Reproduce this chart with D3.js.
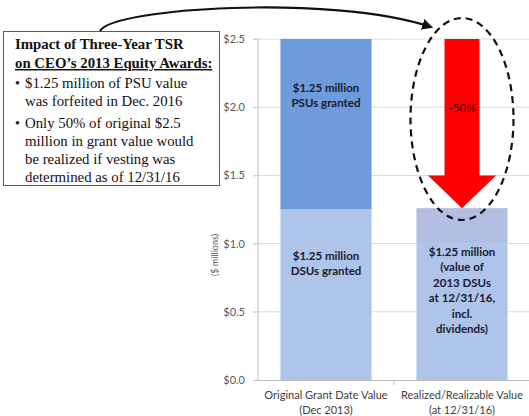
<!DOCTYPE html>
<html><head><meta charset="utf-8">
<script src="https://cdn.jsdelivr.net/npm/d3@7"></script>
<style>body{margin:0;background:#fff}svg{display:block}</style>
</head><body>
<script>
const categories = ["Original Grant Date Value|(Dec 2013)", "Realized/Realizable Value|(at 12/31/16)"];
const dsuValues = [1.25, 1.0];
const upperValues = [1.25, 0.26];
const yTicks = [0, 0.5, 1.0, 1.5, 2.0, 2.5];
const barLabels = [
  [["$1.25 million","DSUs granted"], ["$1.25 million","(value of","2013 DSUs","at 12/31/16,","incl.","dividends)"]],
  [["$1.25 million","PSUs granted"], []]
];
const arrowFrom = 2.5, arrowNeck = 1.5, arrowLabel = "-50%";
const boxTitle = ["Impact of Three-Year TSR", "on CEO\u2019s 2013 Equity Awards:"];
const boxBullets = [["$1.25 million of PSU value","was forfeited in Dec. 2016"],
  ["Only 50% of original $2.5","million in grant value would","be realized if vesting was","determined as of 12/31/16"]];

const W = 529, H = 416;
const svg = d3.select("body").append("svg").attr("width", W).attr("height", H);
const font = "Lato, 'Open Sans', sans-serif";
const x = d3.scaleBand().domain(categories).range([258, 530]).paddingInner(0.33).paddingOuter(0.165);
const y = d3.scaleLinear().domain([0, 2.5]).range([380, 39]);

// gridlines
svg.append("g").selectAll("line").data(yTicks.filter(d => d > 0)).join("line")
  .attr("x1", 253).attr("x2", 529).attr("y1", d => y(d)).attr("y2", d => y(d))
  .attr("stroke", "#d9d9d9").attr("stroke-width", 1);

// y axis
const ya = svg.append("g").attr("transform", "translate(258,0)")
  .call(d3.axisLeft(y).tickValues(yTicks).tickFormat(d => "$" + d3.format(".1f")(d)).tickSize(5).tickPadding(8));
ya.select(".domain").attr("stroke", "#bfbfbf").attr("d", "M0," + y(2.5) + "V" + y(0));
ya.selectAll(".tick line").attr("stroke", "#d0d0d0");
ya.selectAll("text").attr("font-family", font).attr("font-size", 11).attr("fill", "#595959");

// x axis
svg.append("line").attr("x1", 253).attr("x2", 529).attr("y1", y(0) + 0.5).attr("y2", y(0) + 0.5).attr("stroke", "#bfbfbf");
svg.append("line").attr("x1", x(categories[1]) - x.step() * 0.165).attr("x2", x(categories[1]) - x.step() * 0.165)
  .attr("y1", y(0)).attr("y2", y(0) + 5).attr("stroke", "#bfbfbf");
categories.forEach(c => {
  const t = svg.append("text").attr("text-anchor", "middle").attr("font-family", font).attr("font-size", 11).attr("fill", "#404040");
  c.split("|").forEach((s, i) => t.append("tspan").attr("x", x(c) + x.bandwidth() / 2).attr("y", 399 + i * 14.5).text(s));
});
svg.append("text").attr("transform", "translate(218," + 255 + ") rotate(-90)")
  .attr("text-anchor", "middle").attr("font-family", font).attr("font-size", 9).attr("fill", "#595959").text("($ millions)");

// bars
const lowerColors = ["#aec4e9", "#aec4e9"];
const upperColors = ["#6d9bdb", "#b3bfe0"];
svg.append("g").selectAll("rect").data(categories).join("rect")
  .attr("x", d => x(d)).attr("width", x.bandwidth())
  .attr("y", (d, i) => y(dsuValues[i])).attr("height", (d, i) => y(0) - y(dsuValues[i]))
  .attr("fill", (d, i) => lowerColors[i]);
svg.append("g").selectAll("rect").data(categories).join("rect")
  .attr("x", d => x(d)).attr("width", x.bandwidth())
  .attr("y", (d, i) => y(dsuValues[i] + upperValues[i]))
  .attr("height", (d, i) => y(dsuValues[i]) - y(dsuValues[i] + upperValues[i]))
  .attr("fill", (d, i) => upperColors[i]);

// bar labels
const labelY = [[256, 252], [88, 0]];
barLabels.forEach((row, r) => row.forEach((lines, i) => {
  const t = svg.append("text").attr("text-anchor", "middle").attr("font-family", font)
    .attr("font-size", 11.5).attr("font-weight", "bold").attr("fill", "#1a1a2e");
  lines.forEach((s, k) => t.append("tspan").attr("x", x(categories[i]) + x.bandwidth() / 2)
    .attr("y", labelY[r][i] + 4 + k * 15.4).text(s));
}));

// red arrow
const cx = x(categories[1]) + x.bandwidth() / 2;
const tipV = dsuValues[1] + upperValues[1];
const sw = 17.5, hw = 34;
svg.append("path").attr("fill", "#ff0000")
  .attr("d", `M${cx - sw},${y(arrowFrom)}H${cx + sw}V${y(arrowNeck)}H${cx + hw}L${cx},${y(tipV)}L${cx - hw},${y(arrowNeck)}H${cx - sw}Z`);
svg.append("text").attr("x", cx).attr("y", y(2.0) + 5).attr("text-anchor", "middle")
  .attr("font-family", font).attr("font-size", 11.5).attr("fill", "#3a0a0a").text(arrowLabel);

// dashed ellipse
svg.append("ellipse").attr("cx", cx).attr("cy", 119).attr("rx", 51.5).attr("ry", 101)
  .attr("fill", "none").attr("stroke", "#111").attr("stroke-width", 2.2).attr("stroke-dasharray", "7,5");

// text box
svg.append("rect").attr("x", 3.5).attr("y", 31.5).attr("width", 216).attr("height", 154)
  .attr("fill", "#fff").attr("stroke", "#595959").attr("stroke-width", 1);
const serif = "'Liberation Serif', 'Times New Roman', serif";
boxTitle.forEach((s, i) => svg.append("text").attr("x", 15).attr("y", 49 + i * 19)
  .attr("font-family", serif).attr("font-weight", "bold").attr("font-size", 14.8).attr("fill", "#111")
  .attr("text-decoration", i === 1 ? "underline" : null).text(s));
let ly = 88;
boxBullets.forEach(lines => {
  svg.append("text").attr("x", 15).attr("y", ly).attr("font-family", serif).attr("font-size", 14).attr("fill", "#111").text("\u2022");
  lines.forEach(s => {
    svg.append("text").attr("x", 25).attr("y", ly).attr("font-family", serif).attr("font-size", 14.8).attr("fill", "#111").text(s);
    ly += 18;
  });
  ly += 4;
});

// curved connector arrow
svg.append("defs").append("marker").attr("id", "ah").attr("viewBox", "0 0 10 10")
  .attr("refX", 8).attr("refY", 5).attr("markerWidth", 5).attr("markerHeight", 5).attr("orient", "auto")
  .append("path").attr("d", "M0,0L10,5L0,10Z").attr("fill", "#111");
svg.append("path").attr("d", "M100,31 C112,8 330,-6 431,27").attr("fill", "none")
  .attr("stroke", "#111").attr("stroke-width", 2.2).attr("marker-end", "url(#ah)");
</script>
</body></html>
